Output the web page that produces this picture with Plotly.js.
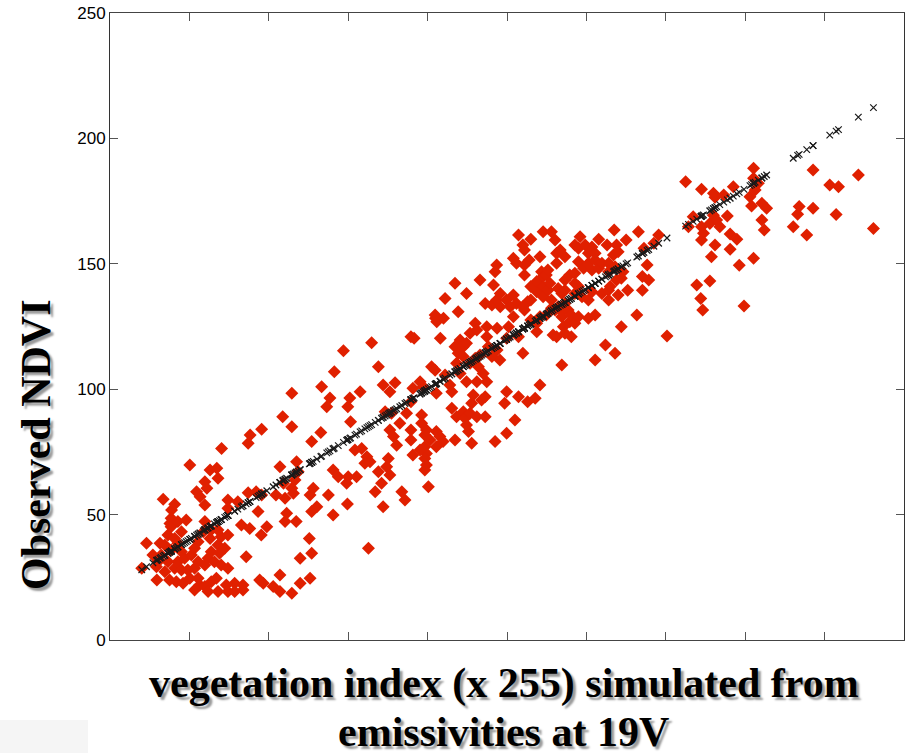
<!DOCTYPE html>
<html>
<head>
<meta charset="utf-8">
<script src="https://cdn.plot.ly/plotly-3.0.1.min.js"></script>
<style>html,body{margin:0;padding:0;background:#fff;}#chart{width:905px;height:753px;}</style>
</head>
<body>
<div id="chart"></div>
<script>
// Simulated vegetation index (x 255) from 19V emissivities
const simulated = [
28.0,29.2,31.8,32.6,30.8,31.7,32.1,32.9,33.4,33.8,
33.8,34.6,34.6,35.0,35.1,35.4,35.4,35.4,35.5,36.3,
36.3,36.3,36.7,37.1,37.1,37.1,38.0,38.0,38.0,38.4,
38.8,39.2,39.6,40.1,40.1,40.5,41.3,41.3,41.3,41.8,
42.7,42.2,42.2,42.2,42.6,43.5,43.9,43.9,43.9,43.9,
44.4,43.9,44.7,44.7,45.2,45.2,45.5,45.5,45.5,46.3,
46.9,46.8,47.2,47.2,47.2,47.2,47.6,48.1,48.0,48.0,
48.9,49.3,49.7,49.7,49.7,49.7,49.7,51.4,51.4,52.2,
53.1,53.5,53.5,54.3,54.8,55.2,55.3,54.8,56.8,57.3,
57.7,58.6,58.1,58.2,58.2,59.5,61.1,61.8,62.8,62.8,
62.8,63.5,63.7,64.1,64.5,64.1,65.8,65.8,65.8,65.8,
66.2,66.6,66.9,67.0,67.4,67.9,67.9,70.2,70.4,70.4,
70.8,70.8,70.8,71.2,72.1,73.1,73.3,74.6,75.0,75.4,
76.2,76.2,76.5,77.5,78.8,79.6,79.8,79.9,80.0,80.4,
80.6,81.7,82.1,83.0,83.4,84.7,84.2,85.1,85.9,87.6,
85.5,87.6,88.4,86.8,88.8,88.8,90.5,91.8,90.1,89.7,
90.5,89.3,90.9,90.5,91.4,92.2,93.0,93.5,94.3,94.7,
95.8,96.6,95.8,96.3,95.8,95.8,96.3,98.1,98.9,98.5,
98.5,98.1,102.0,99.3,99.7,99.3,99.7,99.3,99.7,99.3,
100.2,100.6,101.0,101.9,101.9,102.3,104.0,103.2,102.2,102.2,
103.1,103.9,102.2,104.4,104.4,105.6,106.1,106.1,107.3,106.9,
106.9,107.3,108.2,107.7,108.2,106.9,107.7,109.0,109.0,109.8,
109.8,109.8,109.0,109.4,109.8,110.3,111.1,110.7,110.7,110.7,
111.1,111.5,112.4,112.4,112.8,112.0,112.4,112.0,113.2,113.2,
113.6,114.0,114.5,114.5,114.9,114.9,115.3,114.9,114.5,116.6,
116.2,116.2,117.0,117.4,117.0,117.4,118.3,117.5,118.3,117.5,
118.2,119.4,119.9,119.9,119.9,120.8,120.4,119.9,121.6,121.6,
121.6,122.4,122.4,122.0,122.9,122.9,122.9,124.0,124.4,124.0,
124.0,124.4,124.4,124.4,125.2,125.2,125.6,126.0,126.0,126.0,
126.0,127.1,127.5,127.5,127.5,127.5,128.3,128.3,128.7,128.3,
129.1,129.1,129.1,129.1,129.9,129.9,130.3,130.3,130.8,131.2,
131.2,131.2,131.6,132.1,132.1,132.5,132.5,132.5,132.9,132.9,
133.4,133.8,133.8,133.8,133.8,134.2,134.6,134.6,134.6,134.6,
134.6,135.4,135.8,135.8,136.2,136.2,137.1,137.1,137.1,137.1,
137.1,138.0,138.0,138.0,138.0,138.4,138.9,139.3,139.7,140.5,
140.5,140.5,140.5,141.4,141.4,141.4,142.2,142.2,142.2,142.2,
143.1,143.1,143.9,143.9,144.8,145.2,145.6,145.6,145.6,145.6,
146.0,146.8,147.0,147.2,147.2,147.6,147.6,148.0,148.0,148.8,
148.8,149.2,150.0,150.4,152.7,153.1,154.1,154.1,154.5,155.3,
155.7,157.0,158.2,160.3,165.0,165.7,166.9,167.8,168.8,169.3,
169.0,169.0,169.5,169.0,171.1,171.1,172.0,172.4,172.0,172.8,
173.6,172.4,171.5,174.6,175.5,176.2,177.9,176.2,177.0,178.5,
179.7,181.2,181.6,182.1,182.1,183.3,182.5,184.2,185.4,184.2,
184.8,182.1,192.1,193.2,193.6,195.5,197.1,197.1,201.3,203.5,
202.9,208.5,212.3
];

// Observed NDVI
const observed = [
28.6,38.6,23.9,38.6,33.9,29.2,31.2,33.9,56.1,37.9,
27.2,41.9,31.2,23.9,46.5,48.5,45.2,35.9,51.8,54.1,
40.5,28.6,23.2,47.2,38.6,31.2,43.2,35.2,27.9,22.6,
32.6,47.8,27.9,69.8,24.6,33.9,36.6,28.6,19.9,59.1,
57.1,39.2,31.2,24.6,21.9,43.2,47.2,29.9,21.3,63.1,
60.5,53.8,32.6,19.3,67.8,40.5,43.9,35.2,23.2,31.2,
68.5,24.6,64.5,43.9,37.9,19.3,34.6,76.4,41.2,29.9,
36.6,21.9,55.8,52.5,41.9,28.6,19.3,22.6,19.3,55.1,
45.9,21.9,19.9,33.2,58.7,44.5,81.7,78.4,59.1,51.2,
23.9,22.6,41.9,57.8,84.0,45.2,21.3,57.8,69.1,25.9,
19.3,89.0,62.5,56.5,50.5,47.2,98.4,85.0,60.5,18.6,
58.5,63.8,47.2,71.1,67.1,32.6,22.6,40.5,57.8,24.6,
79.1,51.2,34.6,60.5,53.1,82.7,101.0,93.0,57.8,96.5,
67.8,49.8,107.0,65.1,115.3,62.5,54.2,93.0,65.1,96.5,
87.0,75.8,65.1,99.0,76.4,73.1,70.5,36.6,118.5,109.0,
71.1,67.1,62.5,59.1,53.1,101.7,99.0,102.6,72.4,69.1,
65.8,91.0,90.4,83.7,81.1,77.7,86.4,59.1,55.8,90.4,
120.9,120.3,95.0,100.4,83.7,79.7,73.8,103.0,101.0,89.7,
86.4,75.8,128.3,81.7,83.7,77.1,74.4,72.4,69.8,67.8,
61.1,79.7,109.0,107.6,129.6,126.9,128.3,120.3,98.4,83.1,
81.1,79.1,77.1,105.7,136.2,101.7,99.0,92.4,89.0,79.7,
142.2,110.3,106.3,130.9,119.6,116.9,114.3,116.9,113.0,118.3,
103.0,138.2,91.0,88.4,85.7,83.1,78.4,110.3,122.3,90.4,
94.4,97.7,89.0,103.0,109.0,126.3,123.6,112.3,113.6,143.5,
95.7,106.3,97.0,89.0,103.0,120.9,116.9,124.9,134.2,141.5,
133.6,113.0,79.1,149.5,146.8,135.6,138.2,124.3,132.9,115.6,
111.6,94.4,99.0,82.4,135.6,132.9,124.9,120.3,137.6,128.9,
152.2,150.2,134.2,87.7,97.0,120.9,161.5,157.5,155.5,114.3,
132.9,149.5,145.5,131.6,134.9,95.0,151.5,159.8,140.9,135.6,
127.6,96.4,138.9,142.9,126.3,122.9,128.9,152.8,146.8,101.7,
162.8,144.9,140.9,136.9,145.5,129.6,147.5,139.5,142.2,162.8,
135.6,132.3,121.6,159.5,131.6,154.2,150.2,120.9,140.2,132.9,
155.5,138.2,130.9,128.9,109.6,124.9,152.8,143.5,139.5,134.2,
122.3,131.6,145.5,126.9,129.6,120.9,157.5,146.2,142.2,138.2,
126.3,156.2,150.8,140.9,128.9,160.8,136.9,148.2,157.5,154.2,
150.2,135.6,128.3,156.7,147.5,138.9,154.2,151.5,129.6,111.6,
159.8,148.2,150.2,138.2,117.6,157.5,150.2,146.8,139.5,135.6,
140.9,153.5,163.5,148.8,114.3,157.5,143.5,154.8,137.6,144.2,
124.9,146.8,159.5,139.5,129.6,162.8,144.9,139.5,156.2,149.5,
143.5,158.2,161.5,121.2,182.7,164.8,168.8,141.5,136.2,131.6,
179.7,164.8,162.2,159.5,166.1,143.1,178.1,176.5,169.4,167.5,
164.8,157.5,152.8,177.4,169.1,161.9,159.8,155.8,180.7,149.4,
133.2,176.7,173.0,188.1,184.1,182.1,179.4,174.1,172.1,167.5,
163.5,152.2,164.8,169.8,172.8,161.5,187.4,172.1,181.4,180.7,
169.7,185.4,164.1
];

const yTickValues = [0, 50, 100, 150, 200, 250];
const xTickValues = [20, 40, 60, 80, 100, 120, 140, 160, 180, 200, 220];

const xTitleLine1 = 'vegetation index (x 255) simulated from';
const xTitleLine2 = 'emissivities at 19V';
const yTitleText = 'Observed NDVI';

const titleFont = {family: 'Liberation Serif, Times New Roman, serif', size: 42, color: '#000', weight: 'bold', shadow: '3px 3px 2px #9a9a9a'};
const titleFontRot = Object.assign({}, titleFont, {shadow: '-3px 3px 2px #9a9a9a'});

const traces = [
  {
    type: 'scatter', mode: 'markers',
    x: simulated, y: observed,
    marker: {symbol: 'diamond', size: 10, color: '#e02000', line: {width: 0}},
    hoverinfo: 'skip'
  },
  {
    type: 'scatter', mode: 'markers',
    x: simulated, y: simulated,
    marker: {symbol: 'x-thin-open', size: 6.5, color: '#1a1a1a', line: {width: 1.2, color: '#1a1a1a'}},
    hoverinfo: 'skip'
  }
];

const layout = {
  width: 905, height: 753,
  margin: {l: 110, r: 1, t: 13, b: 113},
  paper_bgcolor: '#fff', plot_bgcolor: '#fff',
  showlegend: false,
  xaxis: {
    range: [20, 220], tickvals: xTickValues, showticklabels: false,
    ticks: 'inside', ticklen: 8, tickwidth: 1, tickcolor: '#555',
    showline: true, linecolor: '#444', linewidth: 1, mirror: 'ticks',
    showgrid: false, zeroline: false
  },
  yaxis: {
    range: [0, 250], tickvals: yTickValues,
    ticks: 'inside', ticklen: 8, tickwidth: 1, tickcolor: '#555',
    showline: true, linecolor: '#333', linewidth: 1, mirror: 'ticks',
    showgrid: false, zeroline: false,
    tickfont: {family: 'Liberation Sans, Arial, sans-serif', size: 17, color: '#000'}
  },
  shapes: [
    {type: 'rect', xref: 'paper', yref: 'paper', x0: -0.14, x1: -0.0277, y0: -0.1276, y1: -0.19,
     fillcolor: '#f5f5f5', line: {width: 0}, layer: 'below'}
  ],
  annotations: [
    {text: xTitleLine1, xref: 'paper', yref: 'paper', x: 0.4968, y: -0.0686, xanchor: 'center', yanchor: 'middle', showarrow: false, font: titleFont},
    {text: xTitleLine2, xref: 'paper', yref: 'paper', x: 0.495, y: -0.1460, xanchor: 'center', yanchor: 'middle', showarrow: false, font: titleFont},
    {text: yTitleText, xref: 'paper', yref: 'paper', x: -0.0932, y: 0.3126, xanchor: 'center', yanchor: 'middle', textangle: -90, showarrow: false, font: titleFontRot}
  ]
};

Plotly.newPlot('chart', traces, layout, {displayModeBar: false, staticPlot: true});
</script>
</body>
</html>
